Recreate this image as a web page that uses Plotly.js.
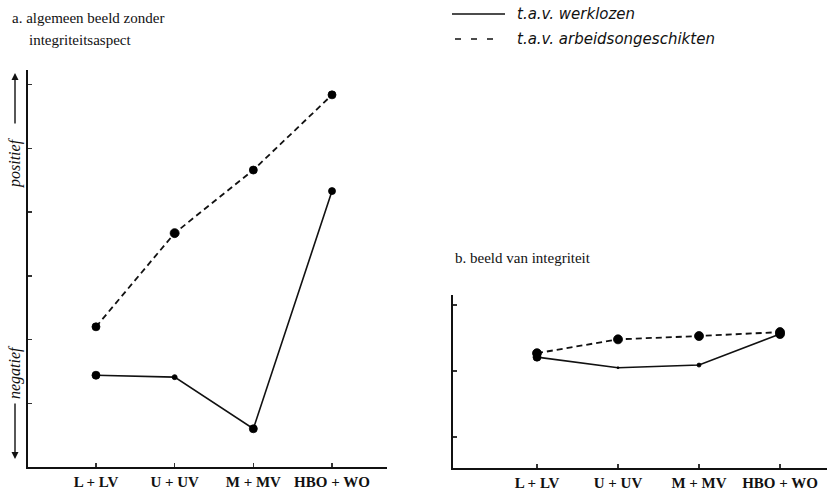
<!DOCTYPE html>
<html>
<head>
<meta charset="utf-8">
<script src="https://cdn.plot.ly/plotly-3.0.1.min.js"></script>
<style>html,body{margin:0;padding:0;background:#fff;}#chart{width:837px;height:490px;}</style>
</head>
<body>
<div id="chart"></div>
<script>
// Categories (education levels)
var categories = ["L + LV", "U + UV", "M + MV", "HBO + WO"];

// Panel a: algemeen beeld zonder integriteitsaspect
var aWerklozen = [1.44, 1.41, 0.60, 4.33];
var aArbeidsongeschikten = [2.20, 3.67, 4.66, 5.84];

// Panel b: beeld van integriteit
var bWerklozen = [2.21, 2.05, 2.09, 2.56];
var bArbeidsongeschikten = [2.27, 2.48, 2.53, 2.59];

// Texts
var legendLabels = ["t.a.v. werklozen", "t.a.v. arbeidsongeschikten"];
var titleA1 = "a. algemeen beeld zonder";
var titleA2 = "integriteitsaspect";
var titleB = "b. beeld van integriteit";
var yPos = "positief", yNeg = "negatief";

var W = 837, H = 490;
function px(x){ return x / W; }
function py(y){ return 1 - y / H; }

var serif = "Liberation Serif, Times New Roman, serif";
var sans = "DejaVu Sans, Liberation Sans, sans-serif";

var solidLine = {color: "#111", width: 1.6, dash: "solid"};
var dashLine = {color: "#111", width: 1.8, dash: "6px,4px"};
var mk = function(sizes){ return {color: "#000", size: sizes, line: {color: "#000", width: 0.8}, opacity: 1}; };

var traces = [
  {x: categories, y: aWerklozen, xaxis: "x", yaxis: "y", mode: "lines+markers",
   line: solidLine, marker: mk([8, 5, 8, 7]), name: legendLabels[0], showlegend: false},
  {x: categories, y: aArbeidsongeschikten, xaxis: "x", yaxis: "y", mode: "lines+markers",
   line: dashLine, marker: mk([8, 9, 8, 8]), name: legendLabels[1], showlegend: false},
  {x: categories, y: bWerklozen, xaxis: "x2", yaxis: "y2", mode: "lines+markers",
   line: solidLine, marker: mk([8, 2, 4, 9]), name: legendLabels[0], showlegend: false},
  {x: categories, y: bArbeidsongeschikten, xaxis: "x2", yaxis: "y2", mode: "lines+markers",
   line: dashLine, marker: mk([9, 9, 9, 9]), name: legendLabels[1], showlegend: false}
];

var axisCommon = {
  showgrid: false, zeroline: false, showline: true, linecolor: "#111", linewidth: 1.8,
  ticks: "inside", ticklen: 4, tickwidth: 1.4, tickcolor: "#333", fixedrange: true
};

var tickFont = {family: serif, size: 15, color: "#111", weight: "bold"};

var layout = {
  width: W, height: H, autosize: false,
  margin: {l: 0, r: 0, t: 0, b: 0},
  paper_bgcolor: "#fff", plot_bgcolor: "#fff",
  showlegend: false,
  xaxis: Object.assign({}, axisCommon, {
    domain: [px(28), px(387)], anchor: "y", type: "category",
    categoryorder: "array", categoryarray: categories,
    range: [-0.864, 3.699],
    tickfont: tickFont, ticklabelstandoff: 0
  }),
  yaxis: Object.assign({}, axisCommon, {
    domain: [py(467), py(70)], anchor: "x",
    range: [0, 6.23], tickvals: [1, 2, 3, 4, 5, 6], showticklabels: false
  }),
  xaxis2: Object.assign({}, axisCommon, {
    domain: [px(453), px(827)], anchor: "y2", type: "category",
    categoryorder: "array", categoryarray: categories,
    range: [-1.037, 3.58],
    tickfont: tickFont, ticklabelstandoff: 0
  }),
  yaxis2: Object.assign({}, axisCommon, {
    domain: [py(468), py(295)], anchor: "x2",
    range: [0.53, 3.152], tickvals: [1, 2, 3], showticklabels: false
  }),
  shapes: [
    {type: "line", xref: "paper", yref: "paper", x0: px(452), x1: px(505), y0: py(14), y1: py(14),
     line: {color: "#111", width: 1.6}},
    {type: "line", xref: "paper", yref: "paper", x0: px(455), x1: px(503), y0: py(39), y1: py(39),
     line: {color: "#111", width: 1.4, dash: "6px,10px"}}
  ],
  annotations: [
    {text: titleA1, xref: "paper", yref: "paper", x: px(10), y: py(18), xanchor: "left", yanchor: "middle",
     showarrow: false, font: {family: serif, size: 15, color: "#111"}},
    {text: titleA2, xref: "paper", yref: "paper", x: px(27), y: py(40), xanchor: "left", yanchor: "middle",
     showarrow: false, font: {family: serif, size: 15, color: "#111"}},
    {text: titleB, xref: "paper", yref: "paper", x: px(453), y: py(258), xanchor: "left", yanchor: "middle",
     showarrow: false, font: {family: serif, size: 15, color: "#111"}},
    {text: legendLabels[0], xref: "paper", yref: "paper", x: px(515), y: py(14), xanchor: "left", yanchor: "middle",
     showarrow: false, font: {family: sans, size: 15, color: "#111", style: "italic"}},
    {text: legendLabels[1], xref: "paper", yref: "paper", x: px(515), y: py(39), xanchor: "left", yanchor: "middle",
     showarrow: false, font: {family: sans, size: 15, color: "#111", style: "italic"}},
    {text: yPos, xref: "paper", yref: "paper", x: px(15), y: py(163), xanchor: "center", yanchor: "middle",
     textangle: -90, showarrow: false, font: {family: serif, size: 16, color: "#111", style: "italic"}},
    {text: yNeg, xref: "paper", yref: "paper", x: px(15), y: py(372), xanchor: "center", yanchor: "middle",
     textangle: -90, showarrow: false, font: {family: serif, size: 16, color: "#111", style: "italic"}},
    {text: "", xref: "paper", yref: "paper", x: px(15), y: py(73), ax: 0, ay: 52,
     showarrow: true, arrowhead: 2, arrowsize: 1, arrowwidth: 1.4, arrowcolor: "#111"},
    {text: "", xref: "paper", yref: "paper", x: px(15), y: py(459), ax: 0, ay: -57,
     showarrow: true, arrowhead: 2, arrowsize: 1, arrowwidth: 1.4, arrowcolor: "#111"}
  ]
};

Plotly.newPlot("chart", traces, layout, {staticPlot: true, displayModeBar: false});
</script>
</body>
</html>
